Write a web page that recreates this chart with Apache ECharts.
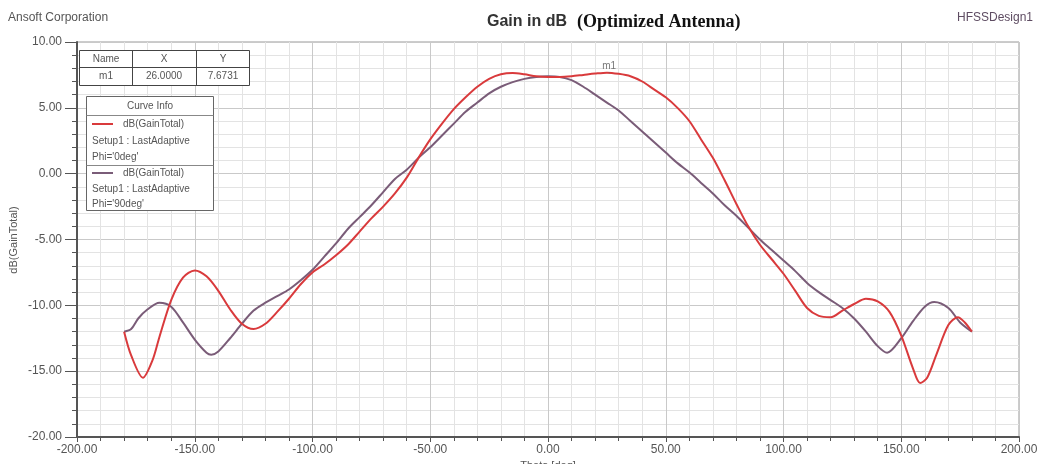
<!DOCTYPE html>
<html>
<head>
<meta charset="utf-8">
<style>
  html, body { margin: 0; padding: 0; background: #ffffff; }
  #chart { width: 1039px; height: 464px; }
</style>
<script src="https://cdn.jsdelivr.net/npm/echarts@6/dist/echarts.min.js"></script>
</head>
<body>
<div id="chart"></div>
<script>
// Gain pattern cut at Phi = 0 deg
const thetaPhi0 = [-180,-177,-172,-168,-165,-160,-155,-150,-145,-140,-135,-130,-125,-120,-115,-110,-105,-100,-95,-90,-85,-80,-75,-70,-65,-60,-55,-50,-45,-40,-35,-30,-25,-20,-15,-10,-5,0,5,10,15,20,25,30,35,40,45,50,55,60,65,70,75,80,85,90,95,100,105,110,115,120,125,130,135,140,145,150,155,158,161,165,170,174,177,180];
const gainPhi0 = [-12.0,-13.8,-15.5,-14.2,-12.4,-9.6,-7.9,-7.35,-7.8,-8.9,-10.3,-11.4,-11.8,-11.4,-10.5,-9.5,-8.4,-7.5,-6.9,-6.2,-5.4,-4.4,-3.4,-2.5,-1.5,-0.3,1.2,2.6,3.8,4.9,5.8,6.6,7.2,7.55,7.65,7.55,7.4,7.35,7.35,7.4,7.5,7.6,7.67,7.58,7.4,7.0,6.4,5.8,5.0,4.0,2.6,1.2,-0.5,-2.3,-4.0,-5.4,-6.5,-7.6,-8.9,-10.2,-10.8,-10.9,-10.4,-9.9,-9.5,-9.7,-10.5,-12.3,-14.8,-15.9,-15.5,-13.7,-11.5,-10.9,-11.3,-12.0];

// Gain pattern cut at Phi = 90 deg
const thetaPhi90 = [-180,-177,-174,-170,-165,-160,-155,-150,-145,-143,-140,-135,-130,-125,-120,-115,-110,-105,-100,-95,-90,-85,-80,-75,-70,-65,-60,-55,-50,-45,-40,-35,-30,-25,-20,-15,-10,-5,0,5,10,15,20,25,30,35,40,45,50,55,60,65,70,75,80,85,90,95,100,105,110,115,120,125,130,135,140,144,150,155,160,164,170,175,180];
const gainPhi90 = [-12.0,-11.8,-11.0,-10.3,-9.8,-10.1,-11.3,-12.6,-13.6,-13.75,-13.5,-12.5,-11.4,-10.4,-9.8,-9.3,-8.8,-8.1,-7.3,-6.3,-5.3,-4.2,-3.3,-2.4,-1.4,-0.4,0.3,1.2,2.0,2.9,3.8,4.7,5.4,6.1,6.6,6.95,7.2,7.35,7.4,7.35,7.1,6.6,6.0,5.4,4.8,4.0,3.2,2.4,1.6,0.8,0.1,-0.7,-1.5,-2.4,-3.2,-4.1,-5.0,-5.8,-6.6,-7.4,-8.3,-9.0,-9.6,-10.2,-11.0,-12.0,-13.1,-13.6,-12.5,-11.2,-10.1,-9.75,-10.2,-11.3,-12.0];

// Marker m1
const markerName = 'm1';
const markerTheta = 26.0;
const markerGain = 7.6731;

// Axis settings
const xMin = -200, xMax = 200, xStep = 50;
const yMin = -20, yMax = 10, yStep = 5;

// Text
const titleMain = 'Gain in dB';
const titleSub = '(Optimized Antenna)';
const companyText = 'Ansoft Corporation';
const designText = 'HFSSDesign1';
const xAxisTitle = 'Theta [deg]';
const yAxisTitle = 'dB(GainTotal)';
const curveHeader = 'Curve Info';
const curveEntries = [
  ['dB(GainTotal)', 'Setup1 : LastAdaptive', "Phi='0deg'"],
  ['dB(GainTotal)', 'Setup1 : LastAdaptive', "Phi='90deg'"]
];
const tableHeader = ['Name', 'X', 'Y'];

const RED = '#d93a3c';
const PURPLE = '#7a5c78';
const FONT = '"Liberation Sans", Arial, sans-serif';

const zip = (xs, ys) => xs.map((x, i) => [x, ys[i]]);

const chart = echarts.init(document.getElementById('chart'), null, { renderer: 'canvas' });

const txt = (x, y, text, opts) => ({
  type: 'text', x: x, y: y, silent: true, z: 101,
  style: Object.assign({ text: text, fill: '#555', font: '10px ' + FONT, align: 'left', verticalAlign: 'middle' }, opts || {})
});
const ln = (x1, y1, x2, y2, stroke, w) => ({
  type: 'line', silent: true, z: 101,
  shape: { x1: x1, y1: y1, x2: x2, y2: y2 },
  style: { stroke: stroke, lineWidth: w || 1 }
});
const box = (x, y, w, h, stroke) => ({
  type: 'rect', silent: true, z: 100,
  shape: { x: x, y: y, width: w, height: h },
  style: { fill: '#fff', stroke: stroke, lineWidth: 1 }
});

// marker table
const tableEls = [
  box(79.5, 50.5, 170, 35, '#444'),
  ln(79.5, 67.5, 249.5, 67.5, '#444'),
  ln(132.5, 50.5, 132.5, 85.5, '#444'),
  ln(196.5, 50.5, 196.5, 85.5, '#444'),
  txt(106, 59, tableHeader[0], { align: 'center' }),
  txt(164, 59, tableHeader[1], { align: 'center' }),
  txt(223, 59, tableHeader[2], { align: 'center' }),
  txt(106, 76.5, markerName, { align: 'center' }),
  txt(164, 76.5, markerTheta.toFixed(4), { align: 'center' }),
  txt(223, 76.5, markerGain.toFixed(4), { align: 'center' })
];

// curve info box
const legendEls = [
  box(86.5, 96.5, 127, 114, '#666'),
  txt(150, 106, curveHeader, { align: 'center' }),
  ln(86.5, 115.5, 213.5, 115.5, '#888'),
  ln(92, 124, 113, 124, RED, 2),
  txt(123, 124, curveEntries[0][0]),
  txt(92, 141, curveEntries[0][1]),
  txt(92, 157, curveEntries[0][2]),
  ln(86.5, 165.5, 213.5, 165.5, '#888'),
  ln(92, 173, 113, 173, PURPLE, 2),
  txt(123, 173, curveEntries[1][0]),
  txt(92, 189, curveEntries[1][1]),
  txt(92, 204, curveEntries[1][2])
];

const option = {
  backgroundColor: '#ffffff',
  animation: false,
  title: {
    text: '{a|' + titleMain + '}  {b|' + titleSub + '}',
    left: 482, top: 8,
    textStyle: {
      rich: {
        a: { fontFamily: FONT, fontSize: 16, color: '#333' },
        b: { fontFamily: '"Liberation Serif", "Times New Roman", serif', fontSize: 18, fontWeight: 'bold', color: '#111' }
      }
    }
  },
  graphic: [
    txt(8, 18, companyText, { font: '12px ' + FONT, fill: '#555' }),
    txt(1033, 18, designText, { font: '12px ' + FONT, fill: '#5e4c62', align: 'right' }),
    {
      type: 'text', x: 14, y: 240, rotation: Math.PI / 2, silent: true,
      style: { text: yAxisTitle, fill: '#555', font: '11px ' + FONT, align: 'center', verticalAlign: 'middle' }
    },
    ...tableEls,
    ...legendEls
  ],
  grid: {
    left: 77, right: 20, top: 42, bottom: 27,
    outerBoundsMode: 'none',
    containLabel: false,
    show: true, borderColor: '#999', borderWidth: 1, backgroundColor: '#fff'
  },
  xAxis: {
    type: 'value', min: xMin, max: xMax, interval: xStep,
    name: xAxisTitle, nameLocation: 'middle', nameGap: 23,
    nameTextStyle: { fontFamily: FONT, fontSize: 11, color: '#555' },
    axisLine: { show: true, onZero: false, lineStyle: { color: '#555', width: 2 } },
    axisTick: { show: true, length: 5, lineStyle: { color: '#555' } },
    minorTick: { show: true, splitNumber: 5, length: 4, lineStyle: { color: '#555' } },
    axisLabel: { fontFamily: FONT, fontSize: 12, color: '#555', margin: 7, formatter: v => v.toFixed(2) },
    splitLine: { show: true, lineStyle: { color: '#c9c9c9', width: 1 } },
    minorSplitLine: { show: true, lineStyle: { color: '#e3e3e3', width: 1 } }
  },
  yAxis: {
    type: 'value', min: yMin, max: yMax, interval: yStep,
    axisLine: { show: true, onZero: false, lineStyle: { color: '#555', width: 2 } },
    axisTick: { show: true, length: 12, lineStyle: { color: '#555' } },
    minorTick: { show: true, splitNumber: 5, length: 5, lineStyle: { color: '#555' } },
    axisLabel: { fontFamily: FONT, fontSize: 12, color: '#555', margin: 15, formatter: v => v.toFixed(2) },
    splitLine: { show: true, lineStyle: { color: '#c9c9c9', width: 1 } },
    minorSplitLine: { show: true, lineStyle: { color: '#e3e3e3', width: 1 } }
  },
  series: [
    {
      name: "Phi='90deg'", type: 'line', data: zip(thetaPhi90, gainPhi90),
      smooth: 0.3, showSymbol: false, z: 3,
      lineStyle: { color: PURPLE, width: 2 }
    },
    {
      name: "Phi='0deg'", type: 'line', data: zip(thetaPhi0, gainPhi0),
      smooth: 0.3, showSymbol: false, z: 4,
      lineStyle: { color: RED, width: 2 }
    },
    {
      name: markerName, type: 'scatter', data: [[markerTheta, markerGain]],
      symbol: 'circle', symbolSize: 1, z: 5,
      itemStyle: { color: '#666' },
      label: { show: true, position: 'top', distance: 1, formatter: markerName, fontFamily: FONT, fontSize: 10, color: '#555' }
    }
  ]
};

chart.setOption(option);
</script>
</body>
</html>
